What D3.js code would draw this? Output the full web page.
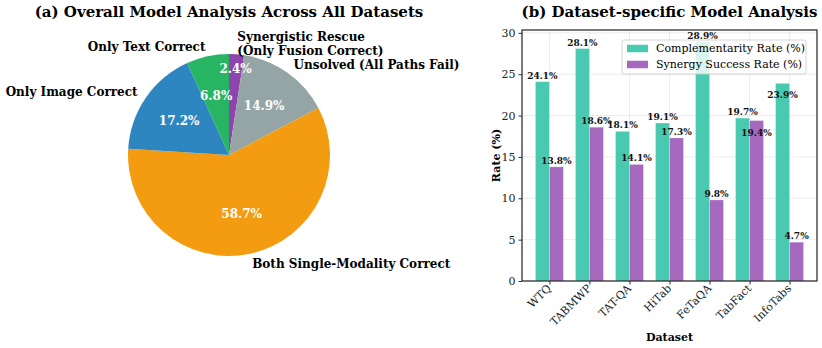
<!DOCTYPE html>
<html>
<head>
<meta charset="utf-8">
<script src="https://cdn.jsdelivr.net/npm/d3@7"></script>
<style>
  body { margin: 0; background: #fff; }
  svg { display: block; font-family: 'DejaVu Serif', serif; }
</style>
</head>
<body>
<div id="chart"></div>
<script>
const WIDTH = 822;
const HEIGHT = 348;

// (a) pie data, drawn clockwise from 12 o'clock
const pieLabels = [
  'Synergistic Rescue\n(Only Fusion Correct)',
  'Unsolved (All Paths Fail)',
  'Both Single-Modality Correct',
  'Only Image Correct',
  'Only Text Correct',
];
const pieValues = [2.4, 14.9, 58.7, 17.2, 6.8];
const pieColours = ['#8e44ad', '#95a5a6', '#f39c12', '#2e86c1', '#27b463'];

// (b) bar data
const datasets = ['WTQ', 'TABMWP', 'TAT-QA', 'HiTab', 'FeTaQA', 'TabFact', 'InfoTabs'];
const complementarity = [24.1, 28.1, 18.1, 19.1, 28.9, 19.7, 23.9];
const synergy = [13.8, 18.6, 14.1, 17.3, 9.8, 19.4, 4.7];
const seriesNames = ['Complementarity Rate (%)', 'Synergy Success Rate (%)'];
const barColours = ['#48c9b0', '#a569bd'];
const yTicks = [0, 5, 10, 15, 20, 25, 30];

function translate(x, y) {
  return `translate(${x}, ${y})`;
}

const svg = d3.select('#chart').append('svg')
  .attr('width', WIDTH)
  .attr('height', HEIGHT);

// ---------- (a) pie ----------
const cx = 229, cy = 155, r = 101;
const pieG = svg.append('g').attr('transform', translate(cx, cy));

const arcs = d3.pie().sort(null).value(d => d)(pieValues);
const arc = d3.arc().innerRadius(0).outerRadius(r);

pieG.selectAll('path.slice')
  .data(arcs)
  .enter().append('path')
  .attr('class', 'slice')
  .attr('d', arc)
  .attr('fill', (d, i) => pieColours[i]);

const mid = d => (d.startAngle + d.endAngle) / 2;
// tiny slices get their percentage pushed outward
const pctDist = d => d.data < 5 ? 0.86 : 0.6;

pieG.selectAll('text.pct')
  .data(arcs)
  .enter().append('text')
  .attr('class', 'pct')
  .attr('x', d => pctDist(d) * r * Math.sin(mid(d)))
  .attr('y', d => -pctDist(d) * r * Math.cos(mid(d)))
  .attr('dy', '0.35em')
  .attr('text-anchor', 'middle')
  .attr('fill', 'white')
  .attr('font-weight', 'bold')
  .attr('font-size', 12)
  .text(d => `${d.data.toFixed(1)}%`);

pieG.selectAll('text.lbl')
  .data(arcs)
  .enter().append('text')
  .attr('class', 'lbl')
  .attr('text-anchor', d => Math.sin(mid(d)) >= 0 ? 'start' : 'end')
  .attr('font-weight', 'bold')
  .attr('font-size', 12)
  .each(function(d, i) {
    const lines = pieLabels[i].split('\n');
    const x = 1.1 * r * Math.sin(mid(d));
    const y = -1.1 * r * Math.cos(mid(d));
    const lh = 14;
    lines.forEach((line, k) => {
      d3.select(this).append('tspan')
        .attr('x', x)
        .attr('y', y + (k - (lines.length - 1) / 2) * lh)
        .attr('dy', '0.35em')
        .text(line);
    });
  });

svg.append('text')
  .attr('x', cx)
  .attr('y', 17)
  .attr('text-anchor', 'middle')
  .attr('font-weight', 'bold')
  .attr('font-size', 15)
  .text('(a) Overall Model Analysis Across All Datasets');

// ---------- (b) bars ----------
const margin = {left: 522, top: 30, right: 5, bottom: 67};
const w = WIDTH - margin.left - margin.right;
const h = HEIGHT - margin.top - margin.bottom;
const g = svg.append('g').attr('transform', translate(margin.left, margin.top));

const barW = 0.35;
const x = d3.scaleLinear()
  .domain([-0.35 - 0.335, datasets.length - 1 + 0.35 + 0.335])
  .range([0, w]);
const y = d3.scaleLinear()
  .domain([0, d3.max(complementarity) * 1.05])
  .range([h, 0]);

// grid
g.append('g').selectAll('line')
  .data(yTicks)
  .enter().append('line')
  .attr('x1', 0).attr('x2', w)
  .attr('y1', d => y(d)).attr('y2', d => y(d))
  .attr('stroke', '#b0b0b0')
  .attr('stroke-opacity', 0.3)
  .attr('stroke-width', 0.8);
g.append('g').selectAll('line')
  .data(datasets)
  .enter().append('line')
  .attr('x1', (d, i) => x(i)).attr('x2', (d, i) => x(i))
  .attr('y1', 0).attr('y2', h)
  .attr('stroke', '#b0b0b0')
  .attr('stroke-opacity', 0.3)
  .attr('stroke-width', 0.8);

const series = [complementarity, synergy];
series.forEach((vals, s) => {
  const off = s === 0 ? -barW / 2 : barW / 2;
  g.append('g').selectAll('rect')
    .data(vals)
    .enter().append('rect')
    .attr('x', (d, i) => x(i + off - barW / 2))
    .attr('width', x(barW) - x(0))
    .attr('y', d => y(d))
    .attr('height', d => h - y(d))
    .attr('fill', barColours[s])
    .attr('stroke', 'white')
    .attr('stroke-width', 0.5)
    .attr('stroke-opacity', 0.6);
});

// value labels; a few sit inside the bar top to stay clear of neighbours/legend
const insideLabels = new Set(['0-6', '1-5']);
series.forEach((vals, s) => {
  const off = s === 0 ? -barW / 2 : barW / 2;
  g.append('g').selectAll('text')
    .data(vals)
    .enter().append('text')
    .attr('x', (d, i) => x(i + off))
    .attr('y', (d, i) => y(d) + (insideLabels.has(`${s}-${i}`) ? 15 : -3))
    .attr('text-anchor', 'middle')
    .attr('font-weight', 'bold')
    .attr('font-size', 9)
    .attr('fill', '#111')
    .text(d => `${d.toFixed(1)}%`);
});

// legend
const leg = g.append('g').attr('transform', translate(100, 10));
leg.append('rect')
  .attr('width', 184).attr('height', 34)
  .attr('rx', 2)
  .attr('fill', 'white').attr('fill-opacity', 0.8)
  .attr('stroke', '#cccccc').attr('stroke-width', 0.8);
seriesNames.forEach((name, i) => {
  const row = leg.append('g').attr('transform', translate(5, 8.5 + i * 16));
  row.append('rect')
    .attr('width', 21).attr('height', 7.5).attr('y', -3.75)
    .attr('fill', barColours[i]);
  row.append('text')
    .attr('x', 29).attr('dy', '0.35em')
    .attr('font-size', 11)
    .text(name);
});

// axes
const yAxis = g.append('g').call(d3.axisLeft(y).tickValues(yTicks).tickSize(3.5).tickPadding(3));
yAxis.selectAll('text').attr('font-size', 11).attr('font-family', 'DejaVu Serif').attr('fill', '#222');
yAxis.selectAll('.tick line').attr('stroke', '#333');
yAxis.select('.domain').remove();

const xAxis = g.append('g')
  .attr('transform', translate(0, h))
  .call(d3.axisBottom(x).tickValues(d3.range(datasets.length)).tickFormat(i => datasets[i]).tickSize(3.5));
xAxis.select('.domain').remove();
xAxis.selectAll('.tick line').attr('stroke', '#333');
xAxis.selectAll('text')
  .attr('font-size', 11)
  .attr('font-family', 'DejaVu Serif')
  .attr('fill', '#222')
  .attr('text-anchor', 'end')
  .attr('dy', null)
  .attr('y', 0)
  .attr('transform', 'translate(2, 8) rotate(-45)');

g.append('rect')
  .attr('width', w).attr('height', h)
  .attr('fill', 'none')
  .attr('stroke', '#222')
  .attr('stroke-width', 1.2);

svg.append('text')
  .attr('x', margin.left + w / 2)
  .attr('y', 341)
  .attr('text-anchor', 'middle')
  .attr('font-weight', 'bold')
  .attr('font-size', 11)
  .text('Dataset');

svg.append('text')
  .attr('transform', `translate(500, ${margin.top + h / 2}) rotate(-90)`)
  .attr('text-anchor', 'middle')
  .attr('font-weight', 'bold')
  .attr('font-size', 11)
  .text('Rate (%)');

svg.append('text')
  .attr('x', margin.left + w / 2)
  .attr('y', 17)
  .attr('text-anchor', 'middle')
  .attr('font-weight', 'bold')
  .attr('font-size', 15)
  .text('(b) Dataset-specific Model Analysis');
</script>
</body>
</html>
